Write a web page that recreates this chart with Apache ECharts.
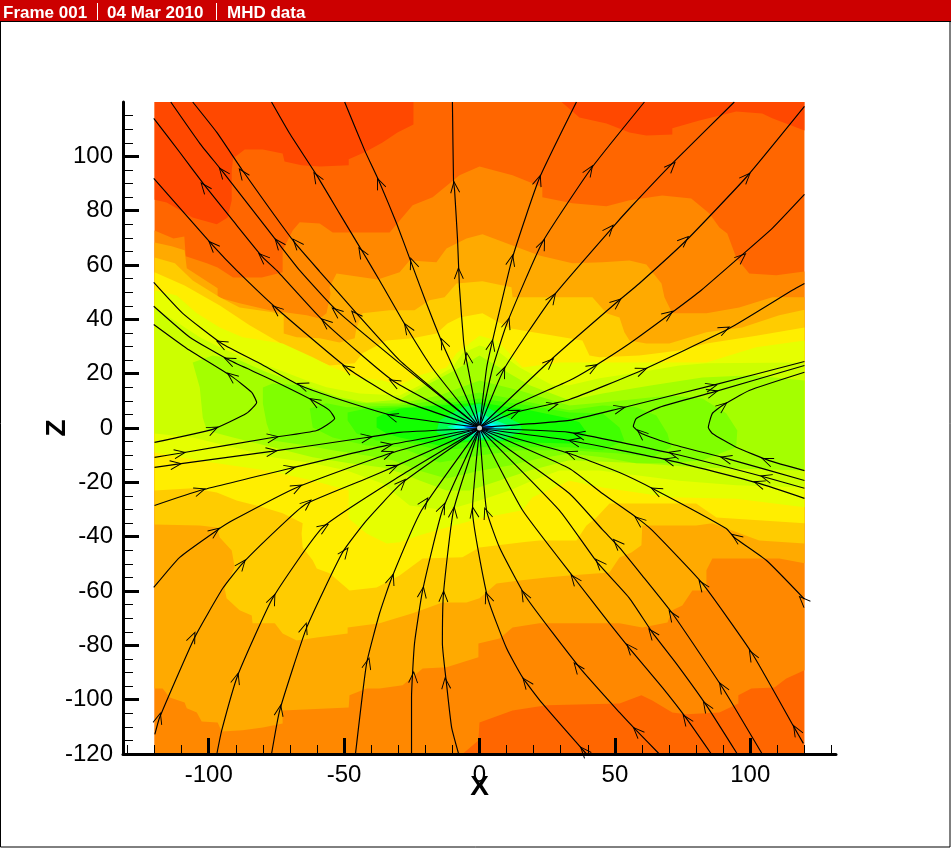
<!DOCTYPE html>
<html><head><meta charset="utf-8">
<style>html,body{margin:0;padding:0;background:#fff}#c{width:951px;height:848px}</style>
<script src="https://cdn.jsdelivr.net/npm/echarts@6/dist/echarts.min.js"></script>
</head><body><div id="c"></div>
<script>
// ---- tick values ----
const xMajorTicks=[-100,-50,0,50,100];
const yMajorTicks=[-120,-100,-80,-60,-40,-20,0,20,40,60,80,100];
const xMinorStep=10, yMinorStep=5;
// ---- contour band outlines, lowest level first (data units) ----
const bandColors=['#ff6600','#ff4800','#ff4800','#ff8800','#ffaa00','#ffcc00','#ffee00','#e6ff00','#ccff00','#a4ff00','#80ff00','#60ff00','#40ff00','#12ff00','#00ff50','#00ffb0','#00ffff','#0070ff'];
const bandBase=[[-120,120],[120,120],[120,-120],[-120,-120]];
const band0a=[[-120,120],[-24.4,120],[-24.4,111.7],[-30.3,108.8],[-35.8,105.1],[-42.4,101.5],[-48.3,98.9],[-48.3,96.7],[-59,96.3],[-65.7,96.7],[-72,98.1],[-72.7,101],[-80,102.5],[-86.7,102.5],[-91,99.2],[-91.5,94.8],[-91.5,83.8],[-93,77.5],[-97,75],[-106,77.5],[-115.5,83],[-120,84]];
const band0b=[[30.3,120],[36.9,114.3],[46.9,112.1],[55.4,108.8],[61.6,107.7],[71.2,108],[71.2,110.3],[81.2,113.2],[94.8,116.5],[104.4,115.8],[108.1,114],[120,109.5],[120,120]];
const band2=[[-120,72.7],[-113,69.8],[-109,70.5],[-108.5,63.2],[-100.7,60.6],[-96.7,59.1],[-91,55.4],[-80.4,55.4],[-72.7,57.3],[-72.7,65.4],[-69,72.7],[-66.4,75.7],[-59,75.3],[-54.2,72],[-33.2,72],[-24.7,82],[-17.3,84.9],[-7.4,93],[0,96.3],[12.2,93],[23.2,88.6],[23.2,84.9],[34.3,82.7],[46.9,81.6],[55.4,83.8],[67.5,85.6],[78.2,84.5],[84.9,79],[88.6,73.8],[91.5,71.6],[94.8,62.8],[99.6,56.9],[109.6,56.2],[120,57.6],[120,-89.2],[113.3,-92.2],[108.9,-95.5],[100.4,-95.9],[95.6,-98.4],[95.6,-101.4],[88.6,-104.7],[76.4,-105.4],[71.2,-104.7],[63.8,-100.3],[59.8,-98.4],[51.7,-101.4],[24.7,-102.1],[12.2,-104],[0,-108.4],[-0.4,-115],[-6.3,-120],[-120,-120]];
const band3=[[-120,68.3],[-113.7,66.9],[-108.9,65.4],[-108.1,58.8],[-96.7,51.4],[-96.7,48.1],[-88.6,45.9],[-77.5,43.3],[-63.8,41.5],[-59,40.3],[-56.5,42.2],[-55,49.5],[-55.4,51.8],[-52.8,56.9],[-37.6,54.7],[-29.5,57.3],[-25.8,61.7],[-15.9,61],[-12.2,66.1],[-4.8,69.8],[1.1,71.3],[12.2,67.2],[22.1,63.5],[34.3,60.6],[45.4,61],[55.4,61.7],[61.6,60.2],[67.2,53.2],[68.3,48.1],[71.2,42.2],[83.8,42.2],[95.9,44.4],[108.1,48.1],[120,48.1],[120,-49.8],[110.7,-48],[86,-48],[83.8,-52.4],[83.8,-59.8],[78.6,-59.8],[74.9,-65.3],[71.2,-67.1],[69.4,-71.6],[60.1,-73.4],[51.7,-71.9],[22.1,-71.9],[12.2,-73.4],[7.4,-77.5],[-0.4,-79.3],[-0.4,-84.4],[-12.2,-88.1],[-21,-88.5],[-28.4,-94.7],[-36.9,-95.9],[-41.7,-95.9],[-48,-98.4],[-48.3,-102.9],[-72.7,-104],[-72.7,-108.8],[-80,-110.2],[-87.5,-111.3],[-95.2,-111.7],[-96.7,-108.4],[-102.6,-108],[-104.4,-104.7],[-108.1,-103.2],[-108.9,-101],[-114.4,-99.2],[-117,-95.9],[-120,-95.9]];
const band4=[[-120,62.8],[-112.5,60.6],[-105.9,54.3],[-95.9,48.1],[-88.6,44.4],[-76.4,42.6],[-72.3,41.5],[-72.3,34.8],[-67.5,33.4],[-59,33],[-51.7,31.5],[-46.1,33],[-45.4,37],[-43.2,42.2],[-33.2,43.3],[-24,43.3],[-18.5,47],[-12.9,48.1],[-8.5,53.2],[1.1,54],[11.8,51.8],[12.2,48.1],[41.7,48.1],[46.9,42.2],[51.7,40.7],[53.5,35.2],[55.4,32.2],[61.6,31.1],[70.1,31.1],[83.8,35.2],[97,37],[110.7,41.5],[120,43.5],[120,-42.5],[103.3,-41.4],[86,-35.1],[80,-35.9],[60.1,-35.9],[59.8,-43.2],[56.1,-45.8],[51.7,-47.7],[48,-53.2],[33.2,-54.3],[24.7,-55],[14.8,-56.1],[6.3,-57.2],[0,-62.7],[-4.8,-64.2],[-13.7,-64.2],[-18.5,-66],[-24.7,-68.2],[-36.9,-71.9],[-48.7,-73.4],[-48.7,-75.6],[-60.1,-77.1],[-67.5,-78.2],[-72.7,-75.6],[-75.6,-71.9],[-83.8,-71.9],[-84.1,-69],[-88.6,-67.1],[-93.4,-62.7],[-94.1,-59],[-90.4,-51.3],[-91.5,-45.1],[-95.9,-40.3],[-97,-36.6],[-103.3,-35.9],[-120,-35.5]];
const band5=[[-120,57.3],[-108.9,52.5],[-95.9,45.1],[-84.9,37.8],[-72,30.4],[-66.4,27.8],[-55.4,23],[-46.1,23.8],[-43.2,27.5],[-34.3,32.2],[-24.7,33],[-15.9,34.8],[-11.8,38.5],[-7.4,40.7],[1.1,42.2],[11.1,36.7],[38,32.2],[40.6,26.7],[44.3,26],[59,26.7],[73.8,28.5],[83.8,31.1],[102.2,34],[120,37],[120,-35.1],[87.5,-32.9],[80,-27.8],[48,-27.8],[43.2,-32.9],[39.5,-35.9],[35.8,-41.4],[22.1,-41.4],[15.9,-42.1],[0,-44],[-6.3,-47.6],[-21,-48],[-29.5,-54.3],[-38,-58.7],[-48,-59.8],[-55.4,-53.5],[-60.1,-51.7],[-61.6,-48.7],[-65.3,-44],[-65.7,-38.8],[-65.3,-35.1],[-72.7,-31.4],[-80,-29.2],[-89.7,-26.7],[-97,-23.7],[-105.9,-22.2],[-120,-23]];
const band6=[[-120,50.7],[-111.8,48.8],[-104.4,42.2],[-95.9,37],[-87.5,33.4],[-72.7,31.1],[-61.6,26],[-54.2,22.3],[-44.3,18.6],[-35.8,17.5],[-29.5,15.7],[-22.1,19.4],[-12.2,22.3],[-8.5,27.5],[0,34],[6.3,32.2],[11.1,27.5],[15.9,22.3],[29.5,24.1],[83.8,24.1],[102.2,29.7],[120,32.2],[120,-29.2],[94.8,-26],[70.1,-25.5],[45.4,-21.9],[33.2,-19.4],[19.6,-25.5],[15.9,-30.3],[0,-33.3],[-12.2,-36.6],[-22.1,-39.5],[-29.5,-42.1],[-34.3,-42.5],[-41.7,-38.8],[-48.3,-33.3],[-48.3,-23],[-61.6,-19.3],[-78.6,-15.6],[-97,-13],[-110.7,-10.8],[-120,-9]];
const band7=[[-120,44.4],[-103.3,33.4],[-95.9,29.7],[-87.5,26],[-76.4,22.3],[-63.8,17.5],[-56.5,15],[-44.3,12.7],[-29.5,12],[-18.5,17.5],[-10,22.3],[-6.3,27.5],[0,30.4],[6.3,28.6],[11.1,24.9],[14.8,22.3],[26.9,15.7],[33.2,15.7],[44.3,18.3],[59,20.5],[73.8,23],[83.8,23.8],[120,24.1],[120,-21.9],[94.8,-21.1],[73.8,-19.4],[44.3,-15.6],[29.5,-15.6],[19.6,-19.3],[11.1,-23],[0,-26.7],[-12.2,-30.3],[-25.8,-28.5],[-35.8,-20.4],[-49,-15.6],[-61.6,-13],[-76.4,-10.8],[-91,-7.1],[-105.9,-3.5],[-120,-2]];
const band8=[[-105.9,24.1],[-98.5,26.7],[-88.6,24.9],[-78.6,20.5],[-66.4,16.4],[-51.7,11.3],[-41.7,9.4],[-29.5,10.5],[-18.5,16.4],[-9.2,21.2],[0,26.7],[9.2,21.2],[18.5,15.7],[33.2,10.2],[45.4,12.7],[63.8,15.7],[82.3,18.6],[100.7,19.4],[120,17.5],[120,-15.6],[81.2,-14.5],[59,-13],[33.2,-11.9],[18.5,-15.6],[7.4,-19.3],[-3.7,-23],[-12.2,-23],[-22.1,-19.3],[-29.5,-16.4],[-35.8,-14.5],[-48,-13],[-61.6,-10.8],[-76.4,-7.1],[-91,-3.5],[-100.7,-0.9],[-102.2,3.9],[-103.3,14.9]];
const band9=[[-80,14.9],[-76.4,16.4],[-66.4,15.7],[-54.2,11.3],[-43.2,9.1],[-29.5,9],[-14.8,12],[0,17.5],[14.8,13.8],[33.2,8.3],[45.4,9.4],[70.1,12],[82.3,10.9],[91.1,5.4],[95.2,-0.9],[94.8,-7.1],[82.3,-11.9],[70.1,-13],[57.9,-13],[45.4,-10.8],[33.2,-9.4],[22.1,-11.2],[11.1,-13.8],[0,-15.7],[-12.2,-18.6],[-22.1,-15.7],[-32.1,-11.9],[-41.7,-10.1],[-54.2,-8.2],[-63.8,-6.4],[-76.4,-4.6],[-78.6,1.7],[-80,9]];
const band10=[[-62.7,7.2],[-56.5,9.1],[-49,7.6],[-29.5,8.3],[-14.8,10.2],[0,13.1],[14.8,10.2],[33.2,6.5],[45.4,8.3],[57.9,7.6],[65.3,4.6],[69.4,-2],[70.8,-7.1],[63.8,-10.8],[51.7,-9.4],[33.2,-8.2],[14.8,-8.2],[0,-10.1],[-14.8,-12.7],[-29.5,-7.1],[-41.7,-6.4],[-54.2,-3.5],[-61.6,0.2]];
const band11=[[-48.7,5.7],[-41.7,7.2],[-29.5,7.6],[-18.5,8.3],[0,10.9],[18.5,8.3],[33.2,5.7],[45.4,5.4],[51.7,0.2],[53.5,-4.6],[45.4,-8.2],[33.2,-7.1],[18.5,-7.1],[0,-7.1],[-14.8,-8.2],[-29.5,-4.6],[-38,-4.6],[-45.4,-2],[-48.7,2.8]];
const band12=[[-38,3.9],[-34.3,5.7],[-29.5,7.2],[-14.8,8.3],[0,9.4],[18.5,6.5],[33.2,3.5],[36.9,2.1],[39.5,-1.6],[36.9,-4.6],[33.2,-5.7],[18.5,-5.3],[0,-4.6],[-14.8,-6.4],[-29.5,-3.5],[-34.3,-2],[-38,0.2]];
const band13=[[-14.8,2.8],[-6.3,7.6],[0,9],[4.8,6.5],[14.8,1.7],[15.9,-0.9],[8.5,-4.6],[0,-4.4],[-8.5,-4.6],[-15.9,-1.6]];
const band14=[[-12,0.5],[-4,3.5],[0,6],[4,3.5],[12,0.5],[4,-2.5],[0,-4],[-4,-2.5]];
const band15=[[-10,0.5],[-3,2],[0,3],[3,2],[10,0.5],[3,-1.5],[0,-2.5],[-3,-1.5]];
const band16=[[-6,0.5],[0,1.5],[6,0.5],[0,-1.5]];
const bandList=[bandBase,band0a,band0b,band2,band3,band4,band5,band6,band7,band8,band9,band10,band11,band12,band13,band14,band15,band16];
const centerHole=[[0,0]];
// ---- streamlines, in flow order; arrows are chevrons along the line ----
const t1=[[0,.2],[-4.8,24.9],[-5.9,32.2],[-7.4,51.8],[-8.1,69.1],[-9.2,87.5],[-9.6,91.1],[-10,120]];
const t1a=[[-4.4,25.6],[-7.7,56.9],[-9.2,88.6]];
const t2=[[0,.2],[-9.2,21.2],[-13.7,31.1],[-19.6,45.9],[-25.1,60.6],[-30.6,75.3],[-36.9,90.4],[-42.4,102.2],[-49.8,120]];
const t2a=[[-13.3,31.1],[-24.7,60.6],[-36.9,90]];
const t3=[[0,.2],[-17.3,21.9],[-26.9,37],[-36.9,54.3],[-43.5,65.4],[-51.7,79],[-60.1,93],[-70.1,108.4],[-76.8,120]];
const t3a=[[-26.6,36.7],[-43.5,64.6],[-60.1,92.3]];
const t4=[[0,.2],[-29.5,24.9],[-45.4,42.2],[-59,57.6],[-68.3,68.3],[-87.5,94.8],[-97,108.8],[-105.9,120]];
const t4a=[[-45.8,41.5],[-67.5,68],[-87.5,93.7]];
const t5=[[0,.2],[-29.5,23.8],[-52.8,43.3],[-66.4,58],[-74.5,68.3],[-95.2,94.8],[-103.3,104.8],[-114,120]];
const t5a=[[-52.8,42.9],[-74.2,68],[-94.8,94.1]];
const t6=[[0,.2],[-32.1,17.5],[-57.2,38.9],[-74.9,58],[-80,62.8],[-91.1,76.4],[-101.5,89.3],[-110.7,101.5],[-120.3,114]];
const t6a=[[-31.4,16.8],[-56.8,38.9],[-80,62.8],[-101.5,88.6]];
const t7=[[0,.2],[-30.6,10.9],[-49.1,22.3],[-74.9,44],[-89.7,58],[-98.5,67.2],[-120.3,91.9]];
const t7a=[[-48.7,21.9],[-74.9,43.7],[-98.5,67.2]];
const u1=[[0,.2],[-32.1,4.6],[-54.2,11.3],[-66.4,15.7],[-81.2,23.8],[-95.2,31.1],[-109.6,42.2],[-120.3,53.6]];
const u1a=[[-32.1,4.3],[-65.3,15.7],[-95.2,31.1]];
const h2=[[-120,-10.8],[-110.7,-9.3],[-76.4,-3.5],[-60.1,-0.9],[-53.5,3.5],[-55.4,6.5],[-61.6,10.2],[-78.6,18.6],[-92.3,24.9],[-107,33.4],[-120.3,44.8]];
const h2a=[[-110.7,-9.3],[-76.4,-3.5],[-60.9,9.8],[-92.3,24.9]];
const h1=[[-120,-5.3],[-98.5,-0.5],[-86,5.4],[-82.3,9.4],[-84.1,13.1],[-91.5,19],[-108.1,29.3],[-120.3,38.1]];
const h1a=[[-98.5,-0.5],[-91.5,19]];
const s1=[[-120,-14.5],[-112.2,-13.4],[-76.8,-8.6],[-41.7,-3.5],[-29.5,-1.6],[0,-.2]];
const s1a=[[-112.2,-13.4],[-76.8,-8.6],[-41.7,-3.5]];
const s2=[[-120,-28.5],[-103.3,-23],[-70.1,-14.9],[-34.3,-6.4],[0,-.2]];
const s2a=[[-103.3,-23],[-70.1,-14.9],[-34.3,-6.4]];
const s3=[[-120.3,-58.7],[-110.7,-47.6],[-97,-37.7],[-91.1,-34],[-67.5,-21.9],[-33.2,-9.4],[0,-.2]];
const s3a=[[-97.8,-38.1],[-67.5,-21.9],[-33.9,-9.4]];
const s4=[[-119.9,-112.8],[-118.1,-106.5],[-105.2,-77.1],[-94.8,-59],[-87.5,-49.8],[-71.2,-34],[-63.8,-27.8],[-41.7,-18.6],[-32.1,-14.5],[0,-.2]];
const s4a=[[-118.4,-106.9],[-105.9,-77.1],[-87.8,-50.2],[-63.8,-27.8],[-32.1,-14.5]];
const s5=[[-97,-120],[-95.2,-111.3],[-89.3,-91.1],[-76.4,-62.7],[-57.9,-36.6],[-29.5,-17.8],[0,-.2]];
const s5a=[[-89.7,-92.2],[-76.4,-63.1],[-57.6,-36.6]];
const s6=[[-76.8,-120],[-73.8,-104],[-63.8,-73.4],[-50.6,-45.8],[-41.7,-34],[-28.8,-20.4],[0,-.2]];
const s6a=[[-73.8,-104],[-64.6,-73.8],[-49.8,-45.8],[-28.8,-20.4]];
const s7=[[-45.8,-120],[-41.7,-86.7],[-36.9,-68.2],[-32.5,-55.4],[-21.4,-30.3],[0,-.2]];
const s7a=[[-41.3,-86.7],[-32.5,-55.7],[-20.3,-27.4]];
const s8=[[-25.1,-120],[-25.1,-99.2],[-24,-79.3],[-21,-59.8],[-13.7,-30.3],[0,-.2]];
const s8a=[[-24.4,-91.8],[-21,-60.5],[-13.7,-29.6]];
const s9=[[-7.7,-120],[-10.3,-110.2],[-12.2,-94],[-13.7,-79.3],[-13.3,-60.9],[-9.6,-30.3],[0,-.2]];
const s9a=[[-12.5,-94],[-13.3,-62],[-9.6,-31.1]];
const s10=[[39.5,-120],[23.2,-101.4],[15.9,-91.8],[10,-81.1],[3,-62.4],[-2.6,-30.3],[0,-.2]];
const s10a=[[38.7,-119],[17.3,-93.7],[3,-62.4],[-2.2,-31.1]];
const s11=[[66.4,-120],[57.9,-111.3],[51.7,-104.7],[36.9,-88.1],[17.3,-62.4],[7.4,-44],[2.6,-30.3],[0,-.2]];
const s11a=[[58.3,-111.7],[36.2,-88.1],[16.6,-61.6],[2.6,-31.4]];
const s12=[[85.6,-120],[76.4,-106.9],[67.5,-95.5],[55.4,-81.1],[48,-71.9],[35.1,-55.4],[15.9,-30.3],[0,-.2]];
const s12a=[[76.4,-107.3],[55.7,-81.1],[35.1,-55.7]];
const s13=[[95.2,-120],[83.8,-102.1],[72.7,-86.7],[63.8,-75.2],[55.4,-62.7],[43.5,-49.5],[29.5,-30.3],[0,-.2]];
const s13a=[[83.8,-102.5],[63.8,-75.6],[44.3,-49.8]];
const s14=[[104.4,-120],[89.7,-95.5],[71.2,-68.2],[60.1,-54.3],[51.7,-44],[45.4,-37.4],[33.2,-24.1],[0,-.2]];
const s14a=[[89.7,-95.5],[71.2,-69],[50.9,-42.5]];
const s15=[[119.6,-116.1],[116.2,-110.2],[100.7,-83],[82.3,-57.2],[63.8,-37.7],[57.9,-32.9],[45.4,-24.1],[33.2,-14.9],[0,-.2]];
const s15a=[[117,-111.3],[100.7,-83.7],[82.3,-57.9],[59,-34]];
const s16=[[120,-63],[105.9,-48.7],[94.1,-40.3],[91.1,-37],[65.3,-23],[51.7,-16.4],[33.2,-9.4],[0,-.2]];
const s16a=[[119.6,-63.5],[94.8,-40.3],[65.3,-23],[33.9,-9.4]];
const r2=[[120,-25.9],[103.3,-20.4],[70.1,-11.9],[33.2,-4.6],[0,-.2]];
const r2a=[[103.3,-20.4],[70.1,-11.9],[35,-4.9]];
const r1=[[120,-22.2],[105.9,-18.2],[71.2,-9.4],[33.2,-1.6],[0,-.2]];
const r1a=[[105.9,-18.2],[72,-9.4],[36.9,-2.4]];
const hi=[[120,-19.3],[91.1,-11.2],[70.1,-5.7],[59.8,-2],[56.8,.6],[57.9,3.5],[66.4,7.6],[86,13.1],[120,23]];
const hia=[[91.1,-11.2],[59.8,-2],[86,13.1]];
const ho=[[120,-15.7],[107,-12],[94.8,-7.1],[86,-2],[84.5,.2],[86,5.4],[89.7,8.3],[99.6,13.8],[120,20.5]];
const hoa=[[106.3,-12],[89.7,8]];
const r4=[[0,.2],[33.2,2.8],[51.7,7.2],[86,15.7],[120,24.5]];
const r4a=[[51.7,7.2],[85.6,15.3]];
const r5=[[0,.2],[12.9,5.7],[33.2,10.5],[59.8,21.2],[92.3,36.7],[115.5,50.7],[120,53.2]];
const r5a=[[12.9,5.7],[26.9,8.3],[59.8,21.2],[90.4,36.3]];
const r6=[[0,.2],[12.9,8.3],[33.2,17.5],[41.7,22.3],[55.4,31.1],[71.2,42.6],[81.9,50.7],[95.9,62.8],[108.1,73.5],[120,86]];
const r6a=[[41.7,22.3],[69.7,41.8],[96.7,62.8]];
const r7=[[0,.2],[26.9,25.6],[50.6,46.2],[59,53.2],[76.4,69.1],[98.5,92.3],[120,118.4]];
const r7a=[[25.8,24.1],[50.6,46.2],[75.6,69.1],[98.5,92.3]];
const r8=[[0,.2],[9.2,21.9],[26.9,48.1],[49.1,73.8],[55.4,80.8],[71.2,97.4],[94.1,120]];
const r8a=[[8.5,20.5],[26.9,47.8],[48,73.1],[70.8,96.3]];
const r9=[[0,.2],[4.8,21.9],[10.3,38.9],[23.2,68.3],[41.3,95.6],[60.9,120]];
const r9a=[[10.3,38.5],[23.2,67.6],[40.6,94.8]];
const r10=[[0,.2],[2.6,21.9],[4.4,30.4],[12.2,62.8],[22.1,91.9],[35.8,120]];
const r10a=[[4.4,30.4],[11.8,61.7],[21.8,91.1]];
const streamLines=[[t1,t1a],[t2,t2a],[t3,t3a],[t4,t4a],[t5,t5a],[t6,t6a],[t7,t7a],[u1,u1a],[h2,h2a],[h1,h1a],[s1,s1a],[s2,s2a],[s3,s3a],[s4,s4a],[s5,s5a],[s6,s6a],[s7,s7a],[s8,s8a],[s9,s9a],[s10,s10a],[s11,s11a],[s12,s12a],[s13,s13a],[s14,s14a],[s15,s15a],[s16,s16a],[r2,r2a],[r1,r1a],[hi,hia],[ho,hoa],[r4,r4a],[r5,r5a],[r6,r6a],[r7,r7a],[r8,r8a],[r9,r9a],[r10,r10a]];
const titleParts=['Frame 001','04 Mar 2010','MHD data'];

function minors(from,to,step,major){const o=[];for(let v=from;v<=to;v+=step){if(major.indexOf(v)<0)o.push(v);}return o;}
const xMinor=minors(-130,130,xMinorStep,xMajorTicks);
const yMinor=minors(-120,115,yMinorStep,yMajorTicks);
const XR=[-131.65,131.65], YR=[-120,120];
const font='"Liberation Sans"';
function heading(line,p){
  let best=0,bd=1e9;
  for(let i=0;i<line.length-1;i++){
    const mx=(line[i][0]+line[i+1][0])/2,my=(line[i][1]+line[i+1][1])/2;
    const d=Math.hypot(mx-p[0],my-p[1])/(Math.hypot(line[i+1][0]-line[i][0],line[i+1][1]-line[i][1])+1);
    if(d<bd){bd=d;best=i;}
  }
  const a=line[best],b=line[best+1];
  return Math.atan2(b[1]-a[1],b[0]-a[0])*180/Math.PI-90;
}
const arrowData=[];
streamLines.forEach(([l,a])=>a.forEach(p=>arrowData.push({value:p,symbolRotate:heading(l,p)})));

const series=[{
  type:'custom',xAxisIndex:0,yAxisIndex:0,silent:true,animation:false,z:1,
  data:bandList.map((b,i)=>[i]),
  renderItem(params,api){
    const i=params.dataIndex;
    return {type:'polygon',shape:{points:bandList[i].map(p=>api.coord(p))},style:{fill:bandColors[i],stroke:null}};
  }
}];
streamLines.forEach(([l])=>series.push({type:'line',xAxisIndex:0,yAxisIndex:0,data:l,symbol:'none',smooth:0.15,silent:true,animation:false,z:3,clip:true,
  lineStyle:{color:'#000',width:1.15}}));
series.push({type:'scatter',xAxisIndex:0,yAxisIndex:0,data:arrowData,silent:true,animation:false,z:4,clip:false,
  symbol:'path://M0 11L4.5 0L9 11',symbolSize:[9,11],itemStyle:{color:'rgba(0,0,0,0)',borderColor:'#000',borderWidth:1,opacity:1}});
series.push({type:'scatter',xAxisIndex:0,yAxisIndex:0,data:centerHole,silent:true,animation:false,z:5,symbol:'circle',symbolSize:5,itemStyle:{color:'#fff'}});

const option={
  backgroundColor:'#fff',animation:false,
  grid:{left:123,right:115,top:102,bottom:94,containLabel:false},
  xAxis:[
    {type:'value',min:XR[0],max:XR[1],position:'bottom',z:6,name:'X',nameLocation:'middle',nameGap:33,nameMoveOverlap:false,
     nameTextStyle:{fontFamily:font,fontWeight:'bold',fontSize:28,color:'#000',verticalAlign:'middle'},
     axisLine:{show:true,onZero:false,lineStyle:{color:'#000',width:3}},
     axisTick:{show:true,inside:true,length:16,lineStyle:{color:'#000',width:3},customValues:xMajorTicks},
     axisLabel:{show:true,margin:9,fontFamily:font,fontSize:24,color:'#000',customValues:xMajorTicks},
     splitLine:{show:false}},
    {type:'value',min:XR[0],max:XR[1],position:'bottom',z:6,
     axisLine:{show:false,onZero:false},
     axisTick:{show:true,inside:true,length:9,lineStyle:{color:'#000',width:1},customValues:xMinor},
     axisLabel:{show:false},splitLine:{show:false}}
  ],
  yAxis:[
    {type:'value',min:YR[0],max:YR[1],position:'left',z:6,name:'Z',nameLocation:'middle',nameGap:66,nameRotate:90,nameMoveOverlap:false,
     nameTextStyle:{fontFamily:font,fontWeight:'bold',fontSize:28,color:'#000',verticalAlign:'middle'},
     axisLine:{show:true,onZero:false,lineStyle:{color:'#000',width:3}},
     axisTick:{show:true,inside:true,length:16,lineStyle:{color:'#000',width:3},customValues:yMajorTicks},
     axisLabel:{show:true,margin:10,fontFamily:font,fontSize:24,color:'#000',customValues:yMajorTicks},
     splitLine:{show:false}},
    {type:'value',min:YR[0],max:YR[1],position:'left',z:6,
     axisLine:{show:false,onZero:false},
     axisTick:{show:true,inside:true,length:10,lineStyle:{color:'#000',width:1},customValues:yMinor},
     axisLabel:{show:false},splitLine:{show:false}}
  ],
  graphic:[
    {type:'rect',shape:{x:0.5,y:0.5,width:949.5,height:846.5},style:{fill:'none',stroke:'#000',lineWidth:1},silent:true,z:10},
    {type:'rect',shape:{x:0,y:0,width:951,height:21},style:{fill:'#cc0000'},silent:true,z:11},
    {type:'rect',shape:{x:0,y:21,width:951,height:1},style:{fill:'#000'},silent:true,z:11},
    {type:'rect',shape:{x:97,y:3,width:1,height:17},style:{fill:'#fff'},silent:true,z:12},
    {type:'rect',shape:{x:216,y:3,width:1,height:17},style:{fill:'#fff'},silent:true,z:12},
    {type:'text',x:3,y:13,style:{text:titleParts[0],fill:'#fff',font:'bold 17px '+font,textVerticalAlign:'middle'},silent:true,z:12},
    {type:'text',x:107,y:13,style:{text:titleParts[1],fill:'#fff',font:'bold 17px '+font,textVerticalAlign:'middle'},silent:true,z:12},
    {type:'text',x:227,y:13,style:{text:titleParts[2],fill:'#fff',font:'bold 17px '+font,textVerticalAlign:'middle'},silent:true,z:12}
  ],
  series
};
const chart=echarts.init(document.getElementById('c'),null,{renderer:'canvas',width:951,height:848});
chart.setOption(option);
</script></body></html>
